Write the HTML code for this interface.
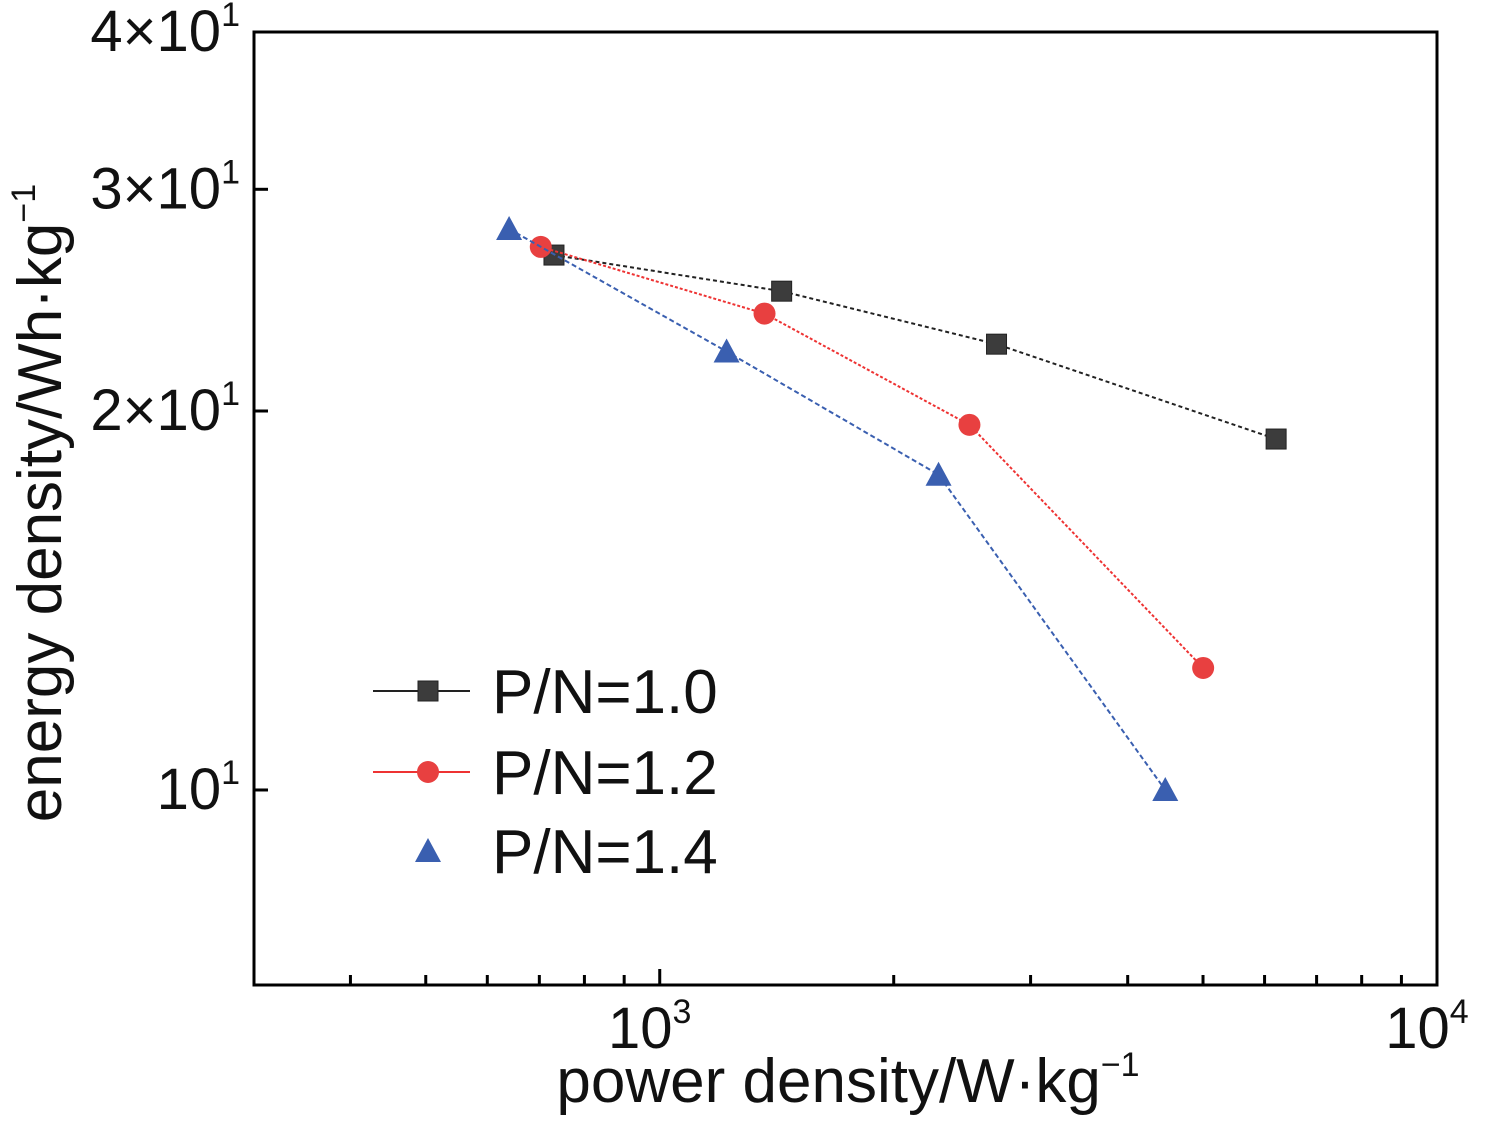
<!DOCTYPE html>
<html><head><meta charset="utf-8"><style>
html,body{margin:0;padding:0;background:#fff;}
svg{display:block;font-family:"Liberation Sans",Arial,sans-serif;}
</style></head><body>
<svg id="chart" width="1486" height="1122" viewBox="0 0 1486 1122" xmlns="http://www.w3.org/2000/svg"></svg>
<script>
const seriesNames = ["P/N=1.0","P/N=1.2","P/N=1.4"];
const powerA = [731,1435,2712,6209];
const energyA = [26.6,24.9,22.6,19.0];
const powerB = [703,1364,2503,5002];
const energyB = [27.0,23.9,19.5,12.5];
const powerC = [640,1219,2284,4471];
const energyC = [27.9,22.3,17.8,10.0];
const yTickVals = [10,20,30,40];
const yTickLabels = [["","10","1"],["2×","10","1"],["3×","10","1"],["4×","10","1"]];
const xTickVals = [1000,10000];
const xTickLabels = ["3","4"];

const L=254,R=1437,T=32,B=985;
const xmin=Math.log10(300.6), xmax=4, ymin=Math.log10(7.0), ymax=Math.log10(40);
const X=v=>L+(Math.log10(v)-xmin)/(xmax-xmin)*(R-L);
const Y=v=>B-(Math.log10(v)-ymin)/(ymax-ymin)*(B-T);
const svg=document.getElementById('chart');
const NS='http://www.w3.org/2000/svg';
function mk(tag,attrs,parent){const e=document.createElementNS(NS,tag);for(const k in attrs)e.setAttribute(k,attrs[k]);(parent||svg).appendChild(e);return e;}

let f=mk('rect',{x:L,y:T,width:R-L,height:B-T,fill:'none',stroke:'#000','stroke-width':3});



yTickVals.forEach((v,i)=>{
  const y=Y(v);
  const t=mk('line',{x1:L,x2:L+14,y1:y,y2:y,stroke:'#000','stroke-width':3});
  
  
  const tx=mk('text',{x:L-14,y:y+19,'font-size':58,'text-anchor':'end',fill:'#111'});
  
  
  const lab=yTickLabels[i];
  const a=mk('tspan',{},tx);a.textContent=lab[0]+lab[1];
  const s=mk('tspan',{'font-size':34,dy:-25},tx);s.textContent=lab[2];
});
for(let d=2;d<=3;d++){for(let m=1;m<=9;m++){const v=m*Math.pow(10,d);if(Math.log10(v)<xmin+0.01||Math.log10(v)>=4)continue;
  const x=X(v);const len=m===1?16:10;
  const t=mk('line',{x1:x,x2:x,y1:B,y2:B-len,stroke:'#000','stroke-width':3});
  
  
}}
xTickVals.forEach((v,i)=>{
  const tx=mk('text',{x:X(v)-10,y:1048,'font-size':58,'text-anchor':'middle',fill:'#111'});
  
  
  const a=mk('tspan',{},tx);a.textContent='10';
  const s=mk('tspan',{'font-size':34,dy:-25},tx);s.textContent=xTickLabels[i];
});
let xt=mk('text',{x:848,y:1102,'font-size':62,'text-anchor':'middle',fill:'#111'});


mk('tspan',{},xt).textContent='power density/W·kg';
mk('tspan',{'font-size':34,dy:-26},xt).textContent='−1';
let yt=mk('text',{x:0,y:0,'font-size':62,'text-anchor':'middle',fill:'#111',transform:'translate(61,503) rotate(-90)'});


mk('tspan',{},yt).textContent='energy density/Wh·kg';
mk('tspan',{'font-size':34,dy:-26},yt).textContent='−1';

function marker(kind,x,y,color,g){
  let e;
  if(kind==='s') e=mk('rect',{x:x-10,y:y-10,width:20,height:20,fill:color,stroke:'#222','stroke-width':1},g);
  else if(kind==='c') e=mk('circle',{cx:x,cy:y,r:11,fill:color},g);
  else e=mk('polygon',{points:`${x},${y-13} ${x-13},${y+11} ${x+13},${y+11}`,fill:color},g);
  return e;
}
const series=[[powerA,energyA,'#3c3c3c','#222','s','4 3'],[powerB,energyB,'#e84040','#e33','c','3 2'],[powerC,energyC,'#3a5fb0','#3a5fb0','o','5 3']];
series.forEach((s,si)=>{
  const g=mk('g',{});
  
  
  const pts=s[0].map((p,i)=>X(p)+','+Y(s[1][i])).join(' ');
  const pl=mk('polyline',{points:pts,fill:'none',stroke:s[3],'stroke-width':2,'stroke-dasharray':s[5]},g);
  
  
  s[0].forEach((p,i)=>{const m=marker(s[4],X(p),Y(s[1][i]),s[2],g);
    
    });
});
const ly=[691,772,851];
seriesNames.forEach((n,i)=>{
  const g=mk('g',{});
  
  
  if(i<2) mk('line',{x1:373,x2:470,y1:ly[i],y2:ly[i],stroke:series[i][3],'stroke-width':2},g);
  marker(series[i][4],428,ly[i],series[i][2],g);
  const t=mk('text',{x:492,y:ly[i]+22,'font-size':62,fill:'#111'},g);t.textContent=n;
});
</script>
</body></html>
